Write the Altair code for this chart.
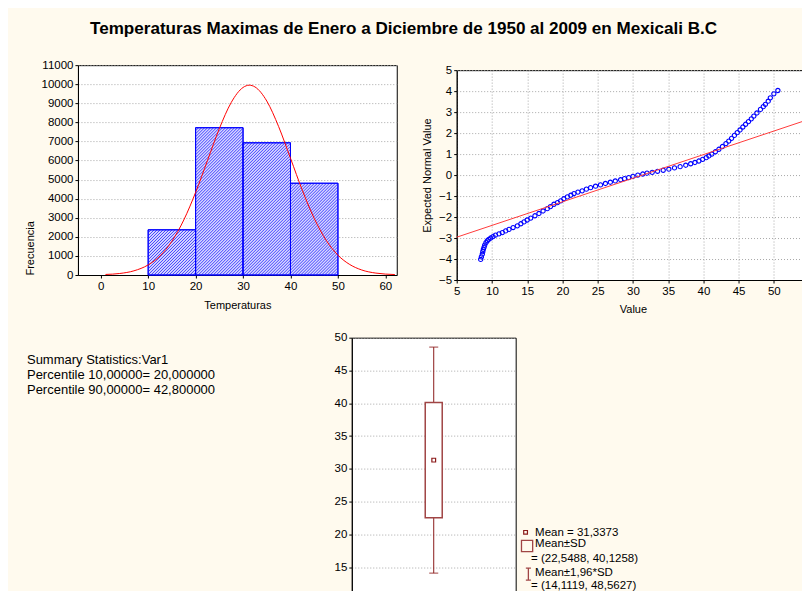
import altair as alt
import pandas as pd

FONT = "Liberation Sans"
BG = "#FFFAEE"
DR = "#8B1A1A"
BOXC = "#A04545"

# ---------------- data ----------------
title_text = "Temperaturas Maximas de Enero a Diciembre de 1950 al 2009 en Mexicali B.C"

bin_start = [10, 20, 30, 40]
bin_end = [20, 30, 40, 50]
counts = [2370, 7720, 6930, 4810]

curve_x = [1, 4, 7, 10, 12.5, 15, 17.5, 20, 22.5, 25, 27.5, 30, 31.3, 32.5, 35,
           37.5, 40, 42.5, 45, 47.5, 50, 52.5, 55, 58, 62]
curve_y = [30, 80, 220, 530, 1000, 1770, 2880, 4330, 6000, 7670, 9040, 9830, 9950,
           9860, 9120, 7780, 6120, 4440, 2970, 1830, 1040, 550, 265, 100, 25]

qq_x = [8.40, 8.50, 8.63, 8.70, 8.78, 8.88, 8.97, 9.15, 9.34, 9.55, 9.82, 10.15, 10.5,
        11.0, 11.47, 11.95, 12.42, 13.0, 13.6, 14.1, 14.55, 15.0, 15.5, 16.1, 16.67,
        17.25, 17.85, 18.3, 18.8, 19.3, 19.75, 20.2, 20.7, 21.2, 21.64, 22.2, 22.8,
        23.4, 24.0, 24.7, 25.4, 26.1, 26.8, 27.5, 28.26, 28.8, 29.4, 30.0, 30.7, 31.4,
        32.0, 32.74, 33.5, 34.3, 35.1, 35.9, 36.7, 37.5, 38.2, 38.8, 39.36, 39.9, 40.4,
        40.78, 41.2, 41.7, 42.2, 42.7, 43.2, 43.6, 44.0, 44.4, 44.8, 45.2, 45.6, 45.99,
        46.4, 46.8, 47.16, 47.6, 48.1, 48.5, 48.8, 49.2, 49.5, 50.0, 50.57]
qq_y = [-4.02, -3.90, -3.77, -3.65, -3.54, -3.44, -3.34, -3.22, -3.13, -3.06, -3.00,
        -2.93, -2.86, -2.80, -2.74, -2.66, -2.59, -2.50, -2.42, -2.32, -2.23, -2.14,
        -2.05, -1.94, -1.83, -1.71, -1.60, -1.50, -1.39, -1.31, -1.23, -1.13, -1.04,
        -0.96, -0.88, -0.81, -0.75, -0.67, -0.60, -0.53, -0.47, -0.40, -0.34, -0.28,
        -0.22, -0.17, -0.12, -0.06, 0.00, 0.05, 0.09, 0.13, 0.18, 0.23, 0.28, 0.34,
        0.40, 0.47, 0.54, 0.60, 0.67, 0.75, 0.83, 0.91, 1.00, 1.11, 1.23, 1.36, 1.50,
        1.62, 1.75, 1.89, 2.02, 2.15, 2.29, 2.42, 2.55, 2.68, 2.81, 2.96, 3.13, 3.26,
        3.37, 3.52, 3.68, 3.87, 4.03]
fit_x = [5, 55]
fit_y = [-2.96, 2.66]

box_mean = 31.3373
box_sd = [22.5488, 40.1258]
box_ci = [14.1119, 48.5627]

summary_lines = ["Summary Statistics:Var1",
                 "Percentile 10,00000= 20,000000",
                 "Percentile 90,00000= 42,800000"]
legend_lines = ["Mean = 31,3373", "Mean\u00b1SD", "= (22,5488, 40,1258)",
                "Mean\u00b11,96*SD", "= (14,1119, 48,5627)"]

NOVIEW = alt.ViewBackground(fill="transparent", stroke="transparent")
one = pd.DataFrame({"k": [0]})


def spacer(w, h):
    return alt.Chart(one).mark_point(opacity=0).encode(
        x=alt.value(0), y=alt.value(0)).properties(width=w, height=h, view=NOVIEW)


# ---------------- histogram ----------------
HW, HH = 319, 210
HX = [-4.8, 62.4]
YMAX = 11000
hist_df = pd.DataFrame({"start": bin_start, "end": bin_end, "count": counts})
curve_df = pd.DataFrame({"x": curve_x, "y": curve_y})

xs_h = alt.Scale(domain=HX, nice=False, zero=False)
ys_h = alt.Scale(domain=[0, YMAX], nice=False)
xa_h = alt.Axis(values=[0, 10, 20, 30, 40, 50, 60], grid=False, title="Temperaturas",
                titlePadding=8)
ya_h = alt.Axis(values=list(range(0, 11001, 1000)), grid=True, title="Frecuencia",
                titleAnchor="start", titlePadding=6, format="d")

pxu = HW / (HX[1] - HX[0])      # pixels per temperature unit
pyu = HH / YMAX                 # pixels per count
P = 3.0                         # hatch spacing (px along x)

bars = alt.Chart(hist_df).mark_rect(fill="#d6d6ff", stroke="#0000ff", strokeWidth=1).encode(
    x=alt.X("start:Q", scale=xs_h, axis=xa_h), x2="end:Q",
    y=alt.Y("count:Q", scale=ys_h, axis=ya_h), y2=alt.datum(0))

# diagonal hatch lines inside each bar, derived from the bar data
hatch = alt.Chart(hist_df).transform_calculate(
    w=f"(datum.end - datum.start) * {pxu}",
    h=f"datum.count * {pyu}",
).transform_calculate(
    s=f"sequence(1, (datum.w + datum.h) / {P}, 1)"
).transform_flatten(["s"]).transform_calculate(
    c=f"datum.s * {P}"
).transform_calculate(
    xa="max(0, datum.c - datum.h)", xb="min(datum.w, datum.c)"
).transform_calculate(
    X1=f"datum.start + datum.xa / {pxu}",
    Y1=f"datum.count - (datum.c - datum.xa) / {pyu}",
    X2=f"datum.start + datum.xb / {pxu}",
    Y2=f"datum.count - (datum.c - datum.xb) / {pyu}",
).mark_rule(color="#3030ff", strokeWidth=0.9).encode(
    x=alt.X("X1:Q", scale=xs_h, axis=xa_h), x2="X2:Q",
    y=alt.Y("Y1:Q", scale=ys_h, axis=ya_h), y2="Y2:Q")

outline = alt.Chart(hist_df).mark_rect(fill="transparent", stroke="#0000ff",
                                       strokeWidth=1).encode(
    x=alt.X("start:Q", scale=xs_h, axis=xa_h), x2="end:Q",
    y=alt.Y("count:Q", scale=ys_h, axis=ya_h), y2=alt.datum(0))

curve = alt.Chart(curve_df).mark_line(color="#ff0000", strokeWidth=1,
                                      interpolate="monotone", clip=True).encode(
    x=alt.X("x:Q", scale=xs_h, axis=xa_h), y=alt.Y("y:Q", scale=ys_h, axis=ya_h))
hist = alt.layer(bars, hatch, outline, curve).properties(width=HW, height=HH)

# ---------------- normal probability plot ----------------
QW, QH = 352.6, 210
qq_df = pd.DataFrame({"v": qq_x, "e": qq_y})
fit_df = pd.DataFrame({"v": fit_x, "e": fit_y})
xs_q = alt.Scale(domain=[5, 55], nice=False, zero=False)
ys_q = alt.Scale(domain=[-5, 5], nice=False, zero=False)
xa_q = alt.Axis(values=list(range(5, 56, 5)), grid=True, title="Value", titlePadding=7,
                labelExpr="datum.value == 55 ? '5' : datum.label",
                labelAlign={"condition": {"test": "datum.value == 55", "value": "right"},
                            "value": "center"})
ya_q = alt.Axis(values=list(range(-5, 6)), grid=True, title="Expected Normal Value",
                titlePadding=6)
pts = alt.Chart(qq_df).mark_point(shape="circle", filled=False, color="#0000ff",
                                  size=18, strokeWidth=1.1, opacity=1).encode(
    x=alt.X("v:Q", scale=xs_q, axis=xa_q), y=alt.Y("e:Q", scale=ys_q, axis=ya_q))
fit = alt.Chart(fit_df).mark_line(color="#ff3b3b", strokeWidth=1).encode(
    x=alt.X("v:Q", scale=xs_q, axis=xa_q), y=alt.Y("e:Q", scale=ys_q, axis=ya_q))
qq = alt.layer(pts, fit).properties(width=QW, height=QH)
qq_col = alt.vconcat(spacer(1, 1), qq, spacing=4, bounds="flush")

# ---------------- box plot ----------------
BW, BH = 164, 262.6
box_df = pd.DataFrame({"pos": [2], "lo": [box_sd[0]], "hi": [box_sd[1]],
                       "wlo": [box_ci[0]], "whi": [box_ci[1]], "mean": [box_mean]})
xs_b = alt.Scale(domain=[0, 4], nice=False, zero=False)
ys_b = alt.Scale(domain=[10, 50], nice=False, zero=False)
ya_b = alt.Axis(values=list(range(15, 51, 5)), grid=True, title=None)
bx = alt.X("pos:Q", scale=xs_b, axis=None)

whisk = alt.Chart(box_df).mark_rule(color=DR, strokeWidth=1).encode(
    x=bx, y=alt.Y("wlo:Q", scale=ys_b, axis=ya_b), y2="whi:Q")
cap_lo = alt.Chart(box_df).mark_tick(orient="horizontal", size=9, thickness=1.2,
                                     color=DR).encode(
    x=bx, y=alt.Y("wlo:Q", scale=ys_b, axis=ya_b))
cap_hi = alt.Chart(box_df).mark_tick(orient="horizontal", size=9, thickness=1.2,
                                     color=DR).encode(
    x=bx, y=alt.Y("whi:Q", scale=ys_b, axis=ya_b))
boxr = alt.Chart(box_df).mark_bar(orient="vertical", size=17, fill="white",
                                  stroke=BOXC, strokeWidth=1.5).encode(
    x=bx, y=alt.Y("lo:Q", scale=ys_b, axis=ya_b), y2="hi:Q")
meanp = alt.Chart(box_df).mark_point(shape="square", size=14, filled=False, color=DR,
                                     strokeWidth=1.2, opacity=1).encode(
    x=bx, y=alt.Y("mean:Q", scale=ys_b, axis=ya_b))

# legend (right of box plot)
leg_x = [183.4, 183.4, 179.4, 183.4, 179.4]
leg_y = [195, 206.6, 221.6, 235, 248]
leg_layers = []
for i, s in enumerate(legend_lines):
    leg_layers.append(
        alt.Chart(pd.DataFrame({"t": [s]})).mark_text(
            align="left", baseline="middle", font=FONT, fontSize=11.5, color="black")
        .encode(x=alt.value(leg_x[i]), y=alt.value(leg_y[i]), text="t:N"))
sym1 = alt.Chart(one).mark_point(shape="square", size=14, filled=False, color=DR,
                                 strokeWidth=1.2, opacity=1).encode(
    x=alt.value(173.9), y=alt.value(194.8))
sym2 = alt.Chart(one).mark_point(shape="square", size=125, filled=False, color=BOXC,
                                 strokeWidth=1.3, opacity=1).encode(
    x=alt.value(175.4), y=alt.value(208.5))
sym3 = alt.Chart(one).mark_point(shape="M-0.42,-1H0.42M0,-1V1M-0.42,1H0.42", size=144,
                                 filled=False, color=BOXC, strokeWidth=1.3,
                                 opacity=1).encode(
    x=alt.value(176.7), y=alt.value(236.6))

box = alt.layer(whisk, cap_lo, cap_hi, boxr, meanp, *leg_layers,
                sym1, sym2, sym3).properties(width=BW, height=BH)

# summary statistics panel (left of box plot)
sum_layers = []
for i, s in enumerate(summary_lines):
    sum_layers.append(
        alt.Chart(pd.DataFrame({"t": [s]})).mark_text(
            align="left", baseline="middle", font=FONT, fontSize=13, color="black")
        .encode(x=alt.value(-51), y=alt.value(22.3 + 15.2 * i), text="t:N"))
sum_panel = alt.layer(*sum_layers).properties(width=264, height=BH, view=NOVIEW)

# ---------------- assemble ----------------
top = alt.hconcat(hist, qq_col, spacing=60, bounds="flush")
bottom = alt.hconcat(sum_panel, box, spacing=10, bounds="flush")
chart = alt.vconcat(top, bottom, spacing=272.7, bounds="flush").properties(
    title=alt.TitleParams(title_text, anchor="middle", dx=-14, offset=21.5),
    background=BG,
    padding={"left": 15, "top": 11, "right": -10.5, "bottom": -10.5},
).configure_view(stroke="black", fill="white", strokeWidth=1).configure_axis(
    labelFont=FONT, titleFont=FONT, labelFontSize=11.5, titleFontSize=11,
    titleFontWeight="normal", labelColor="black", titleColor="black",
    domainColor="black", tickColor="black", tickSize=3, labelPadding=2,
    gridColor="#a8a8a8", gridDash=[1, 2], gridWidth=1,
).configure_title(font=FONT, fontSize=17.1, fontWeight="bold", color="black")

chart.save("out.html", embed_options={"renderer": "svg", "actions": False})
